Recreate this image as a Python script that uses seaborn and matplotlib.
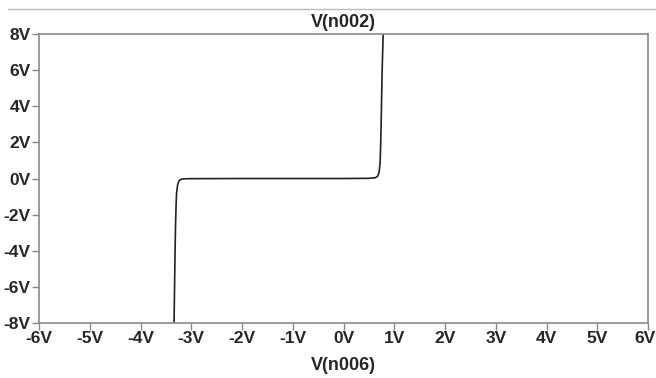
import numpy as np
import pandas as pd
import seaborn as sns
import matplotlib.pyplot as plt
import matplotlib.transforms as mtransforms
from matplotlib.ticker import FuncFormatter
from matplotlib.lines import Line2D

# sweep values: V(n006) on x, V(n002) on y
v_n006 = [-3.34, -3.33, -3.32, -3.31, -3.30, -3.29, -3.27, -3.24, -3.20, -3.10,
          -2.0, 0.0, 0.50, 0.62, 0.67, 0.70, 0.72, 0.73, 0.74, 0.75, 0.76, 0.78]
v_n002 = [-8.0, -6.0, -4.0, -2.5, -1.5, -0.8, -0.35, -0.12, -0.04, -0.01,
          0.0, 0.0, 0.01, 0.04, 0.12, 0.35, 0.9, 1.8, 3.0, 4.5, 6.0, 8.0]

x_ticks = [-6, -5, -4, -3, -2, -1, 0, 1, 2, 3, 4, 5, 6]
y_ticks = [-8, -6, -4, -2, 0, 2, 4, 6, 8]

df = pd.DataFrame({"x": v_n006, "y": v_n002})

sns.set_style("white")
plt.rcParams["font.family"] = ["Liberation Sans", "DejaVu Sans"]
plt.rcParams["font.weight"] = "bold"

fig = plt.figure(figsize=(6.56, 3.78), dpi=100)
ax = fig.add_axes([0.0595, 0.1455, 0.9285, 0.7645])

sns.lineplot(data=df, x="x", y="y", sort=False, estimator=None,
             color="#222222", linewidth=1.2, ax=ax)

ax.set_xlim(-6, 6)
ax.set_ylim(-8, 8)
ax.set_xticks(x_ticks)
ax.set_yticks(y_ticks)
fmt = FuncFormatter(lambda v, p: f"{int(round(v))}V")
ax.xaxis.set_major_formatter(fmt)
ax.yaxis.set_major_formatter(fmt)
ax.tick_params(axis="both", direction="out", length=5, width=1, color="#888888",
               labelsize=12.5, pad=1, left=True, bottom=True)
for lab in ax.get_xticklabels() + ax.get_yticklabels():
    lab.set_fontweight("bold")
for s in ax.spines.values():
    s.set_color("#8a8a8a")
    s.set_linewidth(1.2)

# the last x label sits against the right edge of the window
last = ax.get_xticklabels()[-1]
last.set_transform(last.get_transform() +
                   mtransforms.ScaledTranslation(-3 / 100, 0, fig.dpi_scale_trans))

ax.set_xlabel("V(n006)", fontsize=13, fontweight="bold", labelpad=8)
ax.set_ylabel("")
ax.set_title("V(n002)", fontsize=13, fontweight="bold", pad=5)

# thin separator line across the top of the window
fig.add_artist(Line2D([0.012, 1.0], [0.975, 0.975], transform=fig.transFigure,
                      color="#bbbbbb", linewidth=1))

fig.savefig("out.png", dpi=100)
